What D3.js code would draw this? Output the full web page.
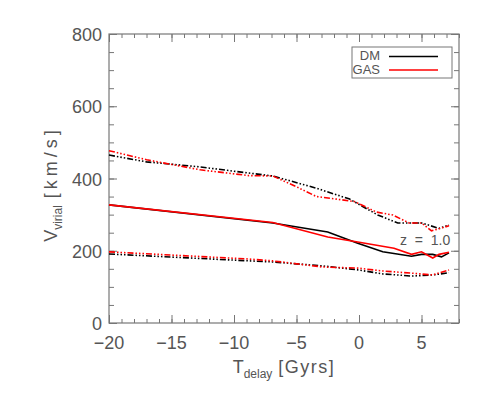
<!DOCTYPE html>
<html>
<head>
<meta charset="utf-8">
<script src="https://cdn.jsdelivr.net/npm/d3@7"></script>
<style>
  body { margin: 0; background: #fff; }
  text { font-family: "Liberation Sans", Arial, sans-serif; fill: #555; }
</style>
</head>
<body>
<script>
// Time since merger (Gyr) and virial velocities (km/s)
var tDmMid   = [-20, -6.9, -2.5, -0.1, 1.9, 4.2, 5.0, 5.9, 6.6, 7.2];
var vDmMid   = [327, 277, 252, 221, 197, 185, 190, 190, 183, 194];
var tGasMid  = [-20, -6.9, -2.5, -0.1, 2.8, 4.2, 5.0, 5.9, 6.4, 7.2];
var vGasMid  = [327, 278, 238, 224, 207, 190, 197, 180, 190, 196];

var tDmHi    = [-20, -17, -12.7, -8.8, -6.9, -3.4, -0.75, 1.5, 3.1, 5.0, 6.4, 7.2];
var vDmHi    = [465, 446, 432, 415, 407, 373, 343, 299, 277, 277, 262, 271];
var tGasHi   = [-20, -17, -12.7, -8.8, -6.9, -5, -3.4, -1.8, -0.35, 1.4, 2.7, 4.0, 5.0, 5.8, 7.2];
var vGasHi   = [477, 452, 424, 408, 407, 377, 350, 343, 336, 307, 299, 277, 277, 255, 269];

var tDmLo    = [-20, -8.8, -6.9, -2.9, -0.1, 1.9, 4.2, 5.9, 7.2];
var vDmLo    = [191, 172, 169, 158, 147, 136, 130, 133, 139];
var tGasLo   = [-20, -8.8, -6.9, -2.9, -0.1, 1.9, 4.2, 5.9, 7.2];
var vGasLo   = [197, 177, 172, 155, 152, 144, 138, 133, 147];

var xTicks = [-20, -15, -10, -5, 0, 5];
var yTicks = [0, 200, 400, 600, 800];
var legendNames = ["DM", "GAS"];
var legendColors = ["#000000", "#ff0000"];

var W = 491, H = 393;
var margin = {top: 34, right: 32, bottom: 70, left: 109};
var pw = W - margin.left - margin.right, ph = H - margin.top - margin.bottom;

var svg = d3.select("body").append("svg").attr("width", W).attr("height", H);
var g = svg.append("g").attr("transform", "translate(" + margin.left + "," + margin.top + ")");

var x = d3.scaleLinear().domain([-20, 8]).range([0, pw]);
var y = d3.scaleLinear().domain([0, 800]).range([ph, 0]);

var axisColor = "#777";
var minorX = d3.range(-20, 9, 1), minorY = d3.range(0, 801, 50);

// ticks on all four sides, pointing inwards (minor short, major long)
var axes = [
  g.append("g").attr("transform", "translate(0," + ph + ")").call(d3.axisBottom(x).tickValues(minorX).tickSize(-4).tickFormat("")),
  g.append("g").attr("transform", "translate(0," + ph + ")").call(d3.axisBottom(x).tickValues(xTicks).tickSize(-8).tickFormat("")),
  g.append("g").call(d3.axisTop(x).tickValues(minorX).tickSize(-4).tickFormat("")),
  g.append("g").call(d3.axisTop(x).tickValues(xTicks).tickSize(-8).tickFormat("")),
  g.append("g").call(d3.axisLeft(y).tickValues(minorY).tickSize(-5).tickFormat("")),
  g.append("g").call(d3.axisLeft(y).tickValues(yTicks).tickSize(-8).tickFormat("")),
  g.append("g").attr("transform", "translate(" + pw + ",0)").call(d3.axisRight(y).tickValues(minorY).tickSize(-5).tickFormat("")),
  g.append("g").attr("transform", "translate(" + pw + ",0)").call(d3.axisRight(y).tickValues(yTicks).tickSize(-8).tickFormat(""))
];
axes.forEach(function(a) {
  a.select(".domain").remove();
  a.selectAll("line").attr("stroke", axisColor);
});

g.append("rect").attr("width", pw).attr("height", ph)
  .attr("fill", "none").attr("stroke", axisColor).attr("stroke-width", 1.2);

// tick labels
g.selectAll(".xl").data(xTicks).enter().append("text")
  .attr("x", function(d) { return x(d); }).attr("y", ph + 26)
  .attr("text-anchor", "middle").style("font-size", "18px")
  .text(function(d) { return d < 0 ? "\u2212" + Math.abs(d) : d; });
g.selectAll(".yl").data(yTicks).enter().append("text")
  .attr("x", -7).attr("y", function(d) { return y(d) + 7; })
  .attr("text-anchor", "end").style("font-size", "18px")
  .text(function(d) { return d; });

// axis titles
var xt = svg.append("text").attr("x", margin.left + pw / 2).attr("y", 373)
  .attr("text-anchor", "middle").style("font-size", "18px");
xt.append("tspan").text("T");
xt.append("tspan").attr("dy", 5).style("font-size", "12px").text("delay");
xt.append("tspan").attr("dy", -5).attr("dx", 6).style("letter-spacing", "1.5px").text("[Gyrs]");

var yt = svg.append("text").attr("transform", "translate(57,184) rotate(-90)")
  .attr("text-anchor", "middle").style("font-size", "18px");
yt.append("tspan").text("V");
yt.append("tspan").attr("dy", 5).style("font-size", "12px").text("virial");
yt.append("tspan").attr("dy", -5).attr("dx", 7).style("letter-spacing", "4px").text("[km/s]");

// curves
var line = d3.line().x(function(d) { return x(d[0]); }).y(function(d) { return y(d[1]); });
var dashPat = "6,2,1.5,2,1.5,2,1.5,2";
var series = [
  {t: tDmHi, v: vDmHi, c: legendColors[0], dash: dashPat},
  {t: tGasHi, v: vGasHi, c: legendColors[1], dash: dashPat},
  {t: tDmLo, v: vDmLo, c: legendColors[0], dash: dashPat},
  {t: tGasLo, v: vGasLo, c: legendColors[1], dash: dashPat},
  {t: tDmMid, v: vDmMid, c: legendColors[0], dash: null},
  {t: tGasMid, v: vGasMid, c: legendColors[1], dash: null}
];
series.forEach(function(s) {
  g.append("path").datum(d3.zip(s.t, s.v))
    .attr("d", line).attr("fill", "none")
    .attr("stroke", s.c).attr("stroke-width", 1.6)
    .attr("stroke-dasharray", s.dash);
});

g.append("text").attr("x", x(7.3)).attr("y", y(215))
  .attr("text-anchor", "end").style("font-size", "14px")
  .attr("xml:space", "preserve").text("z  =  1.0");

// legend
var lg = svg.append("g");
lg.append("rect").attr("x", 352).attr("y", 47).attr("width", 100).attr("height", 31)
  .attr("fill", "#fff").attr("stroke", axisColor);
var items = lg.selectAll(".item").data(legendNames).enter().append("g")
  .attr("transform", function(d, i) { return "translate(0," + (i * 13.5) + ")"; });
items.append("text").attr("x", 380).attr("y", 60)
  .attr("text-anchor", "end").style("font-size", "13px").text(function(d) { return d; });
items.append("line").attr("x1", 389).attr("x2", 438).attr("y1", 56.5).attr("y2", 56.5)
  .attr("stroke", function(d, i) { return legendColors[i]; }).attr("stroke-width", 1.4);
</script>
</body>
</html>
